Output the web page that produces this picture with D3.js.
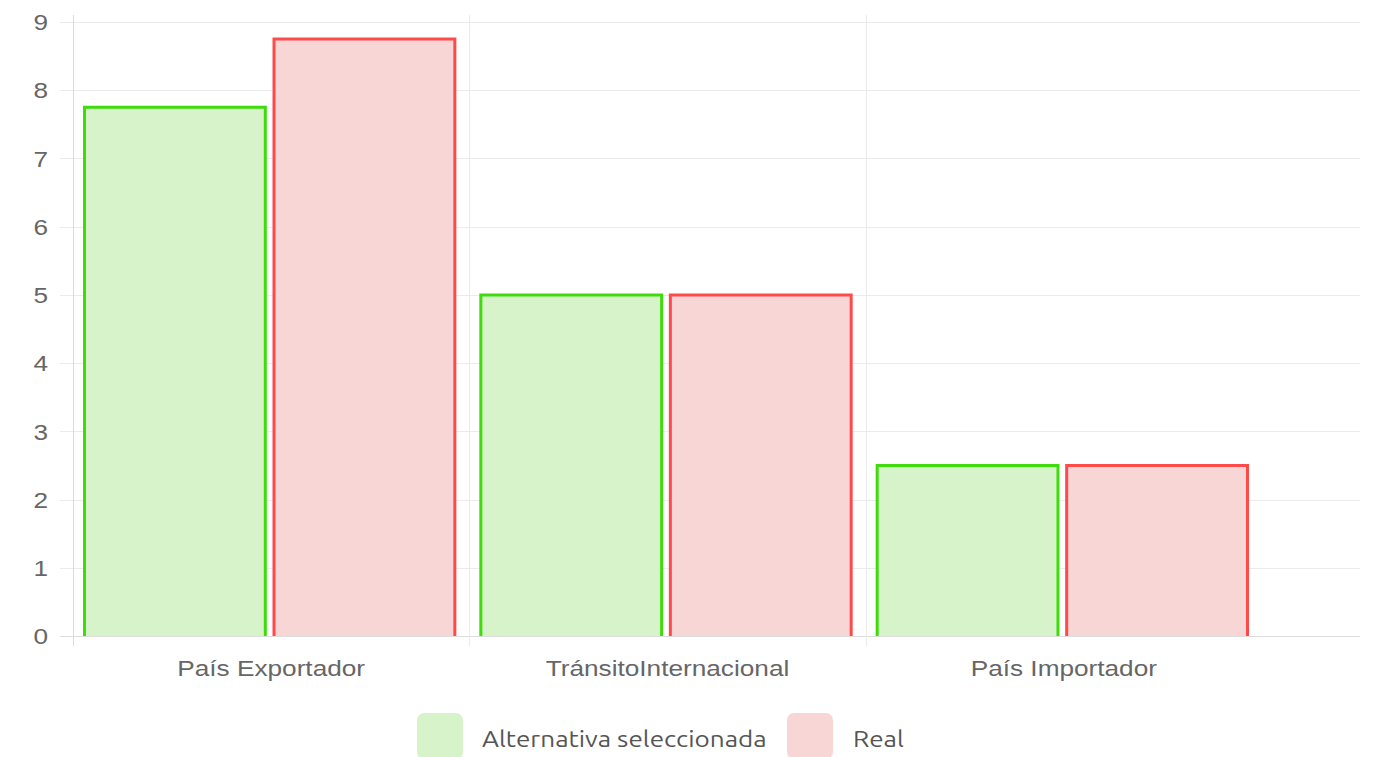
<!DOCTYPE html>
<html>
<head>
<meta charset="utf-8">
<script src="https://cdn.jsdelivr.net/npm/d3@7"></script>
<style>
  html, body { margin: 0; padding: 0; background: #fff; }
  svg { display: block; }
</style>
</head>
<body>
<svg id="chart" width="1377" height="757"></svg>
<script>
// Categories and series
const categories = ["País Exportador", "TránsitoInternacional", "País Importador"];
const seriesNames = ["Alternativa seleccionada", "Real"];
const alternativaValues = [7.75, 5, 2.5];
const realValues = [8.75, 5, 2.5];
const yTicks = [0, 1, 2, 3, 4, 5, 6, 7, 8, 9];

const strokeColors = ["#3ddc0a", "#ff4a4a"];
const fillColors = ["#d7f3c9", "#f8d6d6"];

const svg = d3.select("#chart");
const plotLeft = 73, plotTop = 22, plotBottom = 636, gridRight = 1360;
const catRight = 1262;
const textStretch = 1.19;

// widen a text element horizontally around its anchor
function stretch(sel, k) {
  sel.each(function () {
    const w = this.getComputedTextLength();
    d3.select(this).attr("textLength", w * k).attr("lengthAdjust", "spacingAndGlyphs");
  });
}

const y = d3.scaleLinear().domain([0, 9]).range([plotBottom, plotTop]);
const x0 = d3.scaleBand().domain(categories).range([plotLeft, catRight]).paddingInner(0).paddingOuter(0);
const x1 = d3.scaleBand().domain(seriesNames).range([10, x0.bandwidth() - 13]).paddingInner(0.03).paddingOuter(0);

// horizontal grid lines
svg.append("g").selectAll("line").data(yTicks).join("line")
  .attr("x1", plotLeft - 13).attr("x2", gridRight)
  .attr("y1", d => Math.round(y(d)) + 0.5).attr("y2", d => Math.round(y(d)) + 0.5)
  .attr("stroke", d => d === 0 ? "#dcdcdc" : "#ebebeb").attr("stroke-width", 1);

// vertical grid lines at category boundaries
const boundaries = categories.map(c => x0(c));
svg.append("g").selectAll("line").data(boundaries).join("line")
  .attr("x1", d => Math.round(d) + 0.5).attr("x2", d => Math.round(d) + 0.5)
  .attr("y1", 15).attr("y2", plotBottom + 10)
  .attr("stroke", (d, i) => i === 0 ? "#dcdcdc" : "#ebebeb").attr("stroke-width", 1);

// y-axis labels
const yAxis = d3.axisLeft(y).tickValues(yTicks).tickSize(0).tickPadding(0).tickFormat(d3.format("d"));
const yg = svg.append("g").attr("transform", `translate(${plotLeft - 25},0)`).call(yAxis);
yg.select(".domain").remove();
yg.selectAll("text").attr("font-family", "Liberation Sans, Arial, sans-serif")
  .attr("font-size", 22).attr("fill", "#666").attr("dy", "0.35em");
stretch(yg.selectAll("text"), textStretch);

// x-axis labels
const xAxis = d3.axisBottom(x0).tickSize(0).tickPadding(0);
const xg = svg.append("g").attr("transform", `translate(0,${plotBottom + 40})`).call(xAxis);
xg.select(".domain").remove();
xg.selectAll("text").attr("font-family", "Liberation Sans, Arial, sans-serif")
  .attr("font-size", 22).attr("fill", "#666").attr("y", 0).attr("dy", 0);
stretch(xg.selectAll("text"), textStretch);

// bars
const rows = categories.map((c, i) => ({ cat: c, vals: [alternativaValues[i], realValues[i]] }));
const groups = svg.append("g").selectAll("g").data(rows).join("g")
  .attr("transform", d => `translate(${x0(d.cat)},0)`);
groups.selectAll("path").data(d => d.vals.map((v, k) => ({ v, k }))).join("path")
  .attr("d", d => {
    const xa = x1(seriesNames[d.k]) + 1.5;
    const xb = x1(seriesNames[d.k]) + x1.bandwidth() - 1.5;
    const yt = y(d.v);
    return `M${xa},${plotBottom}V${yt}H${xb}V${plotBottom}`;
  })
  .attr("fill", d => fillColors[d.k])
  .attr("stroke", d => strokeColors[d.k])
  .attr("stroke-width", 3);

// legend
const legend = svg.append("g");
const legendItems = [
  { name: seriesNames[0], x: 417, tx: 482 },
  { name: seriesNames[1], x: 787, tx: 853 }
];
legendItems.forEach((it, i) => {
  legend.append("rect").attr("x", it.x).attr("y", 713).attr("width", 46).attr("height", 46)
    .attr("rx", 7).attr("fill", fillColors[i]);
  const t = legend.append("text").attr("x", it.tx).attr("y", 747).text(it.name)
    .attr("font-family", "Ubuntu, 'Open Sans', sans-serif").attr("font-size", 22).attr("fill", "#555");
  stretch(t, 1.185);
});
</script>
</body>
</html>
